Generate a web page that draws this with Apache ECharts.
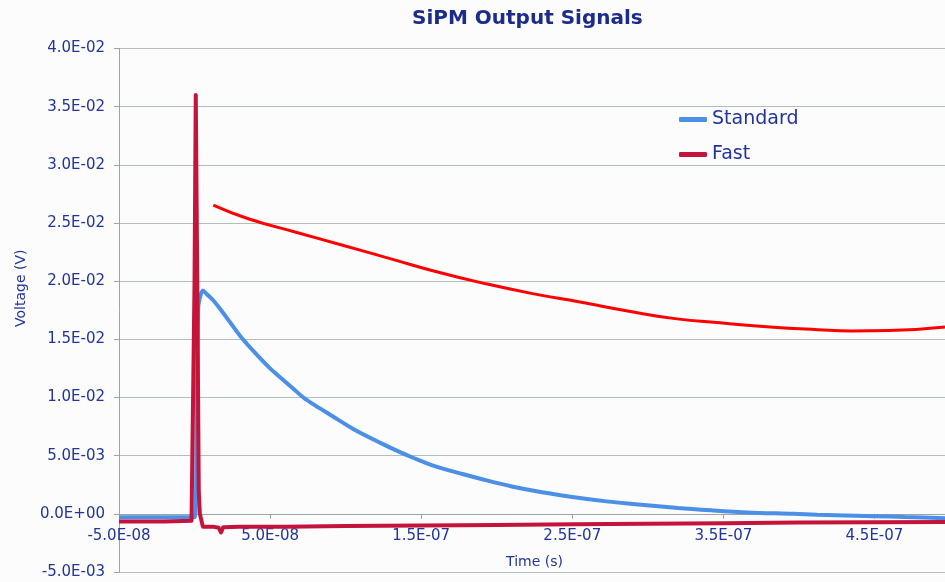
<!DOCTYPE html>
<html><head><meta charset="utf-8">
<script src="https://cdn.jsdelivr.net/npm/echarts@6/dist/echarts.min.js"></script>
<style>html,body{margin:0;padding:0;background:#fbfcfb;}#c{width:945px;height:582px;}</style>
</head><body><div id="c"></div>
<script>
// ---- data (time in s, voltage in V) ----
const chartTitle = 'SiPM Output Signals';
const xAxisName = 'Time (s)';
const yAxisName = 'Voltage (V)';
const seriesNames = ['Standard', 'Fast'];

const standardTime = [-50e-9, -20e-9, 0, 1.5e-9, 2.5e-9, 4e-9, 5.5e-9, 8e-9, 12e-9, 17e-9, 25e-9, 32e-9, 41e-9, 50e-9, 57e-9, 65e-9, 72e-9, 80e-9, 90e-9, 105e-9, 123e-9, 136e-9, 145e-9, 159e-9, 178e-9, 194e-9, 210e-9, 230e-9, 250e-9, 274e-9, 290e-9, 320e-9, 342e-9, 366e-9, 396e-9, 412e-9, 450e-9, 470e-9, 500e-9];
const standardVolt = [-0.3e-3, -0.3e-3, -0.3e-3, 10e-3, 17.8e-3, 18.8e-3, 19.2e-3, 18.9e-3, 18.4e-3, 17.6e-3, 16.2e-3, 15.0e-3, 13.7e-3, 12.5e-3, 11.7e-3, 10.8e-3, 10.0e-3, 9.3e-3, 8.5e-3, 7.3e-3, 6.1e-3, 5.3e-3, 4.8e-3, 4.1e-3, 3.4e-3, 2.85e-3, 2.35e-3, 1.85e-3, 1.45e-3, 1.05e-3, 0.85e-3, 0.5e-3, 0.3e-3, 0.12e-3, 0.0, -0.08e-3, -0.2e-3, -0.28e-3, -0.38e-3];

const fastTime = [-50e-9, -20e-9, -2e-9, -1e-9, 0, 0.8e-9, 1.8e-9, 2.8e-9, 3.5e-9, 5.5e-9, 12e-9, 16e-9, 17.5e-9, 19e-9, 30e-9, 60e-9, 100e-9, 150e-9, 200e-9, 250e-9, 300e-9, 350e-9, 400e-9, 450e-9, 500e-9];
const fastVolt = [-0.65e-3, -0.65e-3, -0.6e-3, -0.5e-3, 20e-3, 36.0e-3, 20e-3, 2e-3, 0.0, -1.1e-3, -1.1e-3, -1.2e-3, -1.6e-3, -1.15e-3, -1.1e-3, -1.1e-3, -1.05e-3, -1.0e-3, -0.95e-3, -0.9e-3, -0.85e-3, -0.8e-3, -0.75e-3, -0.72e-3, -0.7e-3];

const trendTime = [12.4e-9, 35.1e-9, 66.5e-9, 98e-9, 129.4e-9, 160.8e-9, 192.3e-9, 223.7e-9, 255.1e-9, 286.6e-9, 318e-9, 349.4e-9, 380.9e-9, 412.4e-9, 434.5e-9, 459.5e-9, 496.7e-9];
const trendVolt = [26.54e-3, 25.39e-3, 24.23e-3, 23.09e-3, 21.94e-3, 20.79e-3, 19.79e-3, 18.93e-3, 18.21e-3, 17.44e-3, 16.78e-3, 16.4e-3, 16.06e-3, 15.83e-3, 15.72e-3, 15.75e-3, 16.06e-3];

const xMin = -5e-8, xMax = 5e-7, xStep = 1e-7;
const yMin = -5e-3, yMax = 4e-2, yStep = 5e-3;

function expLabel(v) {
  let s = Number(v).toExponential(1);
  const m = s.match(/^(-?[\d.]+)e([+-])(\d+)$/);
  if (!m) return s;
  return m[1] + 'E' + m[2] + (m[3].length < 2 ? '0' + m[3] : m[3]);
}
const zip = (a, b) => a.map((t, i) => [t, b[i]]);

const FONT = 'DejaVu Sans';
const TXT = '#22349a';
const GRIDC = '#b2bebe';
const AXC = '#9aa6a6';

const gridTop = 48.5, gridBottom = 10, H = 582;
const plotH = H - gridTop - gridBottom;
const zeroOffset = -plotH * (0 - yMin) / (yMax - yMin);

const chart = echarts.init(document.getElementById('c'), null, {renderer: 'canvas'});
chart.setOption({
  backgroundColor: '#fbfcfb',
  animation: false,
  title: {
    text: chartTitle, left: 412, top: 9, padding: 0,
    textStyle: {fontFamily: FONT, fontSize: 20, fontWeight: 'bold', color: '#1c2c8a'}
  },
  legend: {
    data: seriesNames, orient: 'vertical', left: 679, top: 110,
    itemWidth: 28, itemHeight: 5, itemGap: 16, icon: 'roundRect', padding: 0,
    textStyle: {fontFamily: FONT, fontSize: 19, color: TXT}
  },
  grid: {left: 119, right: -5, top: gridTop, bottom: gridBottom, containLabel: false, outerBoundsMode: 'none'},
  xAxis: {
    type: 'value', min: xMin, max: xMax, interval: xStep, position: 'bottom', offset: zeroOffset,
    name: xAxisName, nameLocation: 'middle', nameGap: 42,
    nameTextStyle: {fontFamily: FONT, fontSize: 14, color: TXT},
    axisLine: {show: true, onZero: false, lineStyle: {color: AXC, width: 1}},
    axisTick: {show: true, length: 5, lineStyle: {color: AXC}},
    splitLine: {show: false},
    axisLabel: {show: true, formatter: expLabel, showMaxLabel: false, hideOverlap: false, margin: 15, fontFamily: FONT, fontSize: 15, color: TXT}
  },
  yAxis: {
    type: 'value', min: yMin, max: yMax, interval: yStep,
    name: yAxisName, nameLocation: 'middle', nameGap: 91,
    nameTextStyle: {fontFamily: FONT, fontSize: 14, color: TXT, padding: [0, 0, 0, 44]},
    axisLine: {show: true, onZero: false, lineStyle: {color: AXC, width: 1}},
    axisTick: {show: true, length: 5, lineStyle: {color: AXC}},
    splitLine: {show: true, lineStyle: {color: GRIDC, width: 1.2}},
    axisLabel: {formatter: expLabel, margin: 14, fontFamily: FONT, fontSize: 15, color: TXT}
  },
  series: [
    {name: seriesNames[0], type: 'line', data: zip(standardTime, standardVolt), showSymbol: false, symbol: 'none', smooth: 0.3,
     lineStyle: {color: '#4b8fe6', width: 4}, itemStyle: {color: '#4b8fe6'}, z: 3},
    {name: seriesNames[1], type: 'line', data: zip(fastTime, fastVolt), showSymbol: false, symbol: 'none',
     lineStyle: {color: '#c4143c', width: 4, join: 'round'}, itemStyle: {color: '#c4143c'}, z: 4},
    {name: 'trend', type: 'line', data: zip(trendTime, trendVolt), showSymbol: false, symbol: 'none', smooth: true,
     lineStyle: {color: '#ff0000', width: 3}, itemStyle: {color: '#ff0000'}, z: 5}
  ]
});
</script></body></html>
